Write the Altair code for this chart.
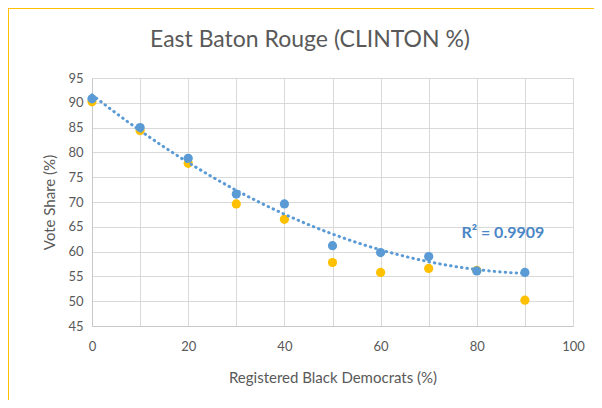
import altair as alt
import pandas as pd

x_vals = [0, 10, 20, 30, 40, 50, 60, 70, 80, 90]
blue_vals = [90.8, 85.0, 78.8, 71.6, 69.6, 61.2, 59.8, 59.0, 56.1, 55.8]
yellow_vals = [90.2, 84.4, 77.8, 69.6, 66.5, 57.8, 55.8, 56.6, 56.2, 50.2]
x_ticks = [0, 10, 20, 30, 40, 50, 60, 70, 80, 90, 100]
y_ticks = [45, 50, 55, 60, 65, 70, 75, 80, 85, 90, 95]
r2_text = ["R\u00b2 = 0.9909"]
title_text = ["East Baton Rouge (CLINTON %)"]

FONT = "Lato"
GREY = "#595959"
BLUE = "#5B9BD5"
YELLOW = "#FFC000"

blue_df = pd.DataFrame({"x": x_vals, "y": blue_vals})
yellow_df = pd.DataFrame({"x": x_vals, "y": yellow_vals})
label_df = pd.DataFrame({"x": [76.8], "y": [63.8], "t": r2_text})

xscale = alt.Scale(domain=[0, 100], nice=False)
yscale = alt.Scale(domain=[45, 95], nice=False, zero=False)

xaxis = alt.Axis(
    values=x_ticks,
    labelExpr="datum.value % 20 == 0 ? datum.label : ''",
    title="Registered  Black Democrats (%)",
    ticks=False,
    labelPadding=14,
    titlePadding=17,
    labelOverlap=False,
    labelFlush=False,
)
yaxis = alt.Axis(
    values=y_ticks,
    tickCount=11,
    title="Vote Share (%)",
    ticks=False,
    labelPadding=9,
    titlePadding=10,
    labelOverlap=False,
    labelFlush=False,
)

X = alt.X("x:Q", scale=xscale, axis=xaxis)
Y = alt.Y("y:Q", scale=yscale, axis=yaxis)

yellow = alt.Chart(yellow_df).mark_circle(size=85, opacity=1, color=YELLOW).encode(x=X, y=Y)

trend = alt.Chart(blue_df).transform_regression(
    "x", "y", method="poly", order=2, extent=[0, 90]
).mark_line(color=BLUE, strokeWidth=3, strokeDash=[0.5, 5], strokeCap="round").encode(x=X, y=Y)

blue = alt.Chart(blue_df).mark_circle(size=85, opacity=1, color=BLUE).encode(x=X, y=Y)

label = alt.Chart(label_df).mark_text(
    align="left", baseline="middle", font=FONT, fontSize=16, fontWeight="bold", color="#4A86C6"
).encode(x=X, y=Y, text="t:N")

title = alt.Chart(pd.DataFrame({"t": title_text})).mark_text(
    align="center", baseline="middle", font=FONT, fontSize=23, color=GREY
).encode(x=alt.value(218), y=alt.value(-38), text="t:N")

frame_left = alt.Chart(pd.DataFrame({"a": [0]})).mark_rule(color=YELLOW, strokeWidth=2).encode(
    x=alt.value(-84), y=alt.value(-71), y2=alt.value(340)
)
frame_top = alt.Chart(pd.DataFrame({"a": [0]})).mark_rule(color=YELLOW, strokeWidth=2).encode(
    x=alt.value(-85), x2=alt.value(520), y=alt.value(-70)
)

chart = alt.layer(frame_left, frame_top, yellow, trend, blue, label, title).properties(
    width=481,
    height=248,
    autosize=alt.AutoSizeParams(type="none"),
    padding={"left": 84, "top": 70, "right": 21, "bottom": 74},
).configure_view(stroke=None).configure_axis(
    gridColor="#D9D9D9",
    domainColor="#C8C8C8",
    labelFont=FONT,
    titleFont=FONT,
    labelFontSize=13,
    titleFontSize=15,
    labelColor=GREY,
    titleColor=GREY,
    titleFontWeight="normal",
)

chart.save("out.html", embed_options={"renderer": "svg", "actions": False})
